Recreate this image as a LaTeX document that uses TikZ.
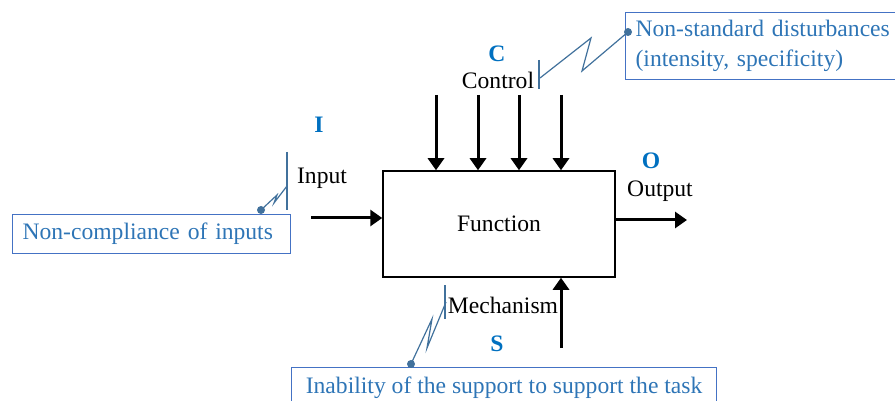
\documentclass[tikz,border=0pt]{standalone}
\usepackage{fontspec}
\setmainfont{Liberation Serif}
\usetikzlibrary{arrows.meta,positioning}
\definecolor{boxblue}{HTML}{4472C4}
\definecolor{txtblue}{HTML}{2E75B6}
\definecolor{letblue}{HTML}{0070C0}
\definecolor{zzblue}{HTML}{41719C}

\begin{document}
\begin{tikzpicture}[x=0.5pt,y=0.5pt,>={Triangle[length=6pt,width=8pt]},
  font=\fontsize{11.8}{15}\selectfont,
  fn/.style={draw,line width=0.75pt,minimum width=116pt,minimum height=53pt},
  arr/.style={->,line width=1.5pt},
  lbl/.style={inner sep=1pt},
  let/.style={inner sep=1pt,text=letblue,font=\fontsize{11.8}{15}\selectfont\bfseries},
  bb/.style={draw=boxblue,line width=0.6pt,text=txtblue,anchor=north west,align=left,inner xsep=5pt},
  zz/.style={draw=zzblue,line width=0.6pt},
  dot/.style={circle,fill=zzblue,inner sep=0pt,minimum size=4pt}]
\useasboundingbox (0,0) rectangle (895,-401);

% function box and arrows
\node[fn] (f) at (499,-224) {Function};
\foreach \x/\n in {436/1,478/2,519/3,561/4}{
  \coordinate (c\n) at (\x,-95);
  \draw[arr] (c\n) -- (c\n |- f.north);
}
\coordinate (in) at (311,-218);
\draw[arr] (in) -- (in -| f.west);
\coordinate (out) at (687,-220);
\draw[arr] (f.east |- out) -- (out);
\coordinate (mech) at (561,-348);
\draw[arr] (mech) -- (mech |- f.south);

% labels
\node[let] (lc) at (497,-54) {C};
\node[lbl] (ctl) at (498,-80) {Control};
\node[let] (li) at (319,-125) {I};
\node[lbl] (inp) at (322,-178) {Input};
\node[let] (lo) at (651,-161) {O};
\node[lbl] (outp) at (660,-191) {Output};
\node[lbl] (mec) at (503,-305) {Mechanism};
\node[let] (ls) at (497,-344) {S};

% disturbances
\node[bb,text width=132pt,minimum height=33.5pt] (nsd) at (625,-12)
  {Non-standard disturbances\\(intensity, specificity)};
\node[bb,text width=129pt,minimum height=19.5pt] (nci) at (12,-214)
  {Non-compliance of inputs};
\node[bb,minimum width=212.5pt,minimum height=20pt] (ina) at (291,-367)
  {Inability of the support to support the task};

% zigzag links
\node[dot] (d1) at (628,-32) {};
\coordinate (b1) at (540,-78);
\draw[zz] (539,-60) -- (539,-89);
\draw[zz] (d1.center) -- (582,-71) -- (591,-38) -- (b1);

\node[dot] (d2) at (261,-210) {};
\coordinate (b2) at (287,-186);
\draw[zz] (287,-152) -- (287,-210);
\draw[zz] (d2.center) -- (277,-195) -- (274,-203) -- (b2);

\node[dot] (d3) at (411,-364) {};
\coordinate (b3) at (446,-302);
\draw[zz] (445,-285) -- (445,-319);
\draw[zz] (d3.center) -- (432,-319) -- (427,-348) -- (b3);
\end{tikzpicture}
\end{document}
